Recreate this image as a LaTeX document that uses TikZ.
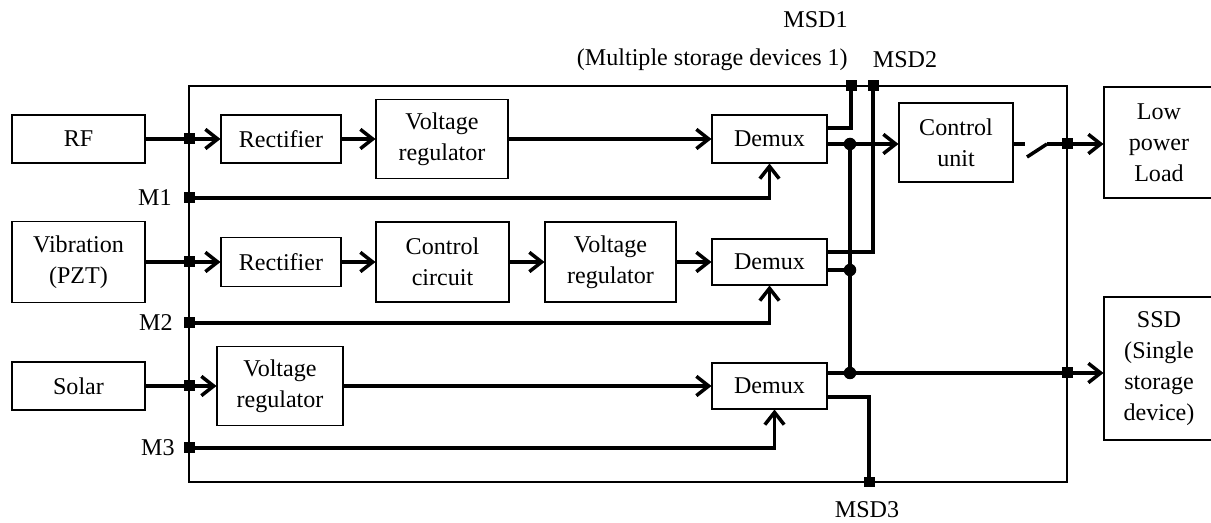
\documentclass[tikz,border=0pt]{standalone}
\usepackage{fontspec}
\setmainfont{Liberation Serif}
\usetikzlibrary{positioning,calc,arrows.meta}

\begin{document}
\begin{tikzpicture}[x=0.02cm,y=-0.02cm,
  font=\fontsize{13.7}{17.5}\selectfont,
  blk/.style={draw, line width=0.6pt, align=center, inner sep=0pt},
  lbl/.style={inner sep=0pt},
  wire/.style={line width=2pt},
  arr/.style={wire, -{Straight Barb[length=7pt,width=11pt]}},
  port/.style={fill, inner sep=0pt, minimum size=0.22cm},
  jdot/.style={circle, fill, inner sep=0pt, minimum size=0.25cm}]
  \clip (0,0) rectangle (1211,523);
  % harvester frame
  \draw[line width=0.6pt] (189,86) rectangle (1067,482);
  % sources
  \node[blk, minimum width=2.66cm, minimum height=0.96cm] (rf) at (78.5,139) {RF};
  \node[blk, minimum width=2.66cm, minimum height=1.62cm] (vib) at (78.5,262) {Vibration\\(PZT)};
  \node[blk, minimum width=2.66cm, minimum height=0.96cm] (solar) at (78.5,386) {Solar};
  % RF chain
  \node[blk, minimum width=2.4cm, minimum height=0.96cm] (rect1) at (281,139) {Rectifier};
  \node[blk, minimum width=2.64cm, minimum height=1.58cm] (vreg1) at (442,139) {Voltage\\regulator};
  \node[blk, minimum width=2.3cm, minimum height=0.96cm] (dmx1) at (769.5,139) {Demux};
  % vibration chain
  \node[blk, minimum width=2.4cm, minimum height=0.98cm] (rect2) at (281,262) {Rectifier};
  \node[blk, minimum width=2.66cm, minimum height=1.6cm] (ctrl) at (442.5,262) {Control\\circuit};
  \node[blk, minimum width=2.62cm, minimum height=1.6cm] (vreg2) at (610.5,262) {Voltage\\regulator};
  \node[blk, minimum width=2.3cm, minimum height=0.92cm] (dmx2) at (769.5,262) {Demux};
  % solar chain
  \node[blk, minimum width=2.52cm, minimum height=1.58cm] (vreg3) at (280,386) {Voltage\\regulator};
  \node[blk, minimum width=2.3cm, minimum height=0.92cm] (dmx3) at (769.5,386) {Demux};
  % control and outputs
  \node[blk, minimum width=2.28cm, minimum height=1.58cm] (cu) at (956,142.5) {Control\\unit};
  \node[blk, minimum width=2.2cm, minimum height=2.22cm] (load) at (1159,142.5) {Low\\power\\Load};
  \node[blk, minimum width=2.2cm, minimum height=2.86cm] (ssd) at (1159,368.5) {SSD\\(Single\\storage\\device)};

  % ports on the frame
  \node[port] (pin1) at (189,139) {};
  \node[port] (pin2) at (189,262) {};
  \node[port] (pin3) at (189,386) {};
  \node[port] (m1) at (189,198) {};
  \node[port] (m2) at (189,323) {};
  \node[port] (m3) at (189,448) {};
  \node[port] (msd1) at (851,86) {};
  \node[port] (msd2) at (873,86) {};
  \node[port] (msd3) at (869,482) {};
  \node[port] (pload) at (1067,144) {};
  \node[port] (pssd) at (1067,373) {};
  \node[lbl, anchor=east] at (172,198) {M1};
  \node[lbl, anchor=east] at (173,323) {M2};
  \node[lbl, anchor=east] at (175,448) {M3};
  \node[lbl, anchor=east, align=right] at (848,41) {MSD1\\[4pt](Multiple storage devices 1)};
  \node[lbl] at (905,60) {MSD2};
  \node[lbl] at (867,510) {MSD3};

  % bus joints and switch
  \coordinate (j1) at (850,144);
  \coordinate (j2) at (850,270);
  \coordinate (j3) at (850,373);
  \coordinate (sw1) at (1027,157);
  \coordinate (sw2) at (1047,144);

  % signal paths
  \draw[arr] (rf) -- (rect1);
  \draw[arr] (rect1) -- (vreg1);
  \draw[arr] (vreg1) -- (dmx1);
  \draw[arr] (vib) -- (rect2);
  \draw[arr] (rect2) -- (ctrl);
  \draw[arr] (ctrl) -- (vreg2);
  \draw[arr] (vreg2) -- (dmx2);
  \draw[arr] (solar) -- (vreg3);
  \draw[arr] (vreg3) -- (dmx3);
  \draw[arr] (m1.center) -| (dmx1.south);
  \draw[arr] (m2.center) -| (dmx2.south);
  \draw[arr] (m3.center) -| ([xshift=0.1cm]dmx3.south);
  % demux outputs
  \draw[wire] ($(dmx1.east)+(0,-11)$) -| (msd1.center);
  \draw[wire] ($(dmx2.east)+(0,-10)$) -| (msd2.center);
  \draw[wire] ($(dmx3.east)+(0,11)$) -| (msd3.center);
  \draw[arr] (dmx1.east |- j1) -- (cu.west |- j1);
  \draw[wire] (dmx2.east |- j2) -- (j2);
  \draw[arr] (dmx3.east |- j3) -- (ssd.west |- j3);
  \draw[wire] (j1) -- (j3);
  \draw[wire] (cu.east |- j1) -- ++(11,0);
  \draw[wire] (sw1) -- (sw2);
  \draw[arr] (sw2) -- (load.west |- sw2);
  \foreach \j in {j1,j2,j3}
    \node[jdot] at (\j) {};
  % ports on top
  \foreach \p in {pin1,pin2,pin3,m1,m2,m3,msd1,msd2,msd3,pload,pssd}
    \node[port] at (\p) {};
\end{tikzpicture}
\end{document}
